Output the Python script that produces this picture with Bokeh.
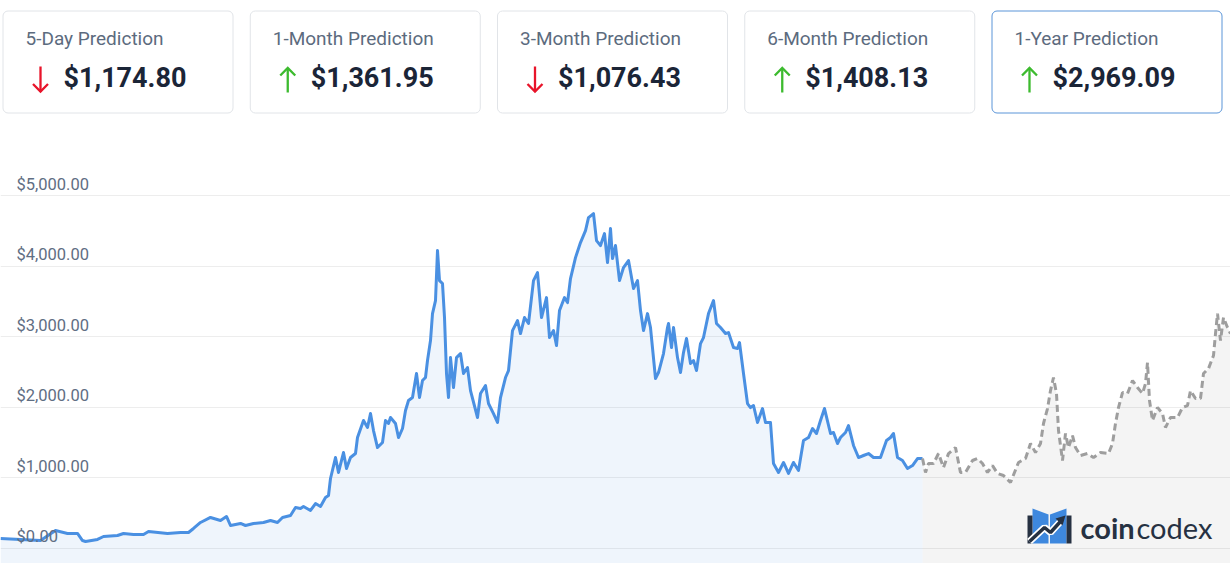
from bokeh.plotting import figure
from bokeh.models import Range1d, FixedTicker, Grid
from bokeh.layouts import column
from bokeh.embed import file_html
from bokeh.resources import INLINE
from bokeh.core.properties import value

# ---------------- data ----------------
card_labels = ["5-Day Prediction", "1-Month Prediction", "3-Month Prediction",
               "6-Month Prediction", "1-Year Prediction"]
card_values = [1174.80, 1361.95, 1076.43, 1408.13, 2969.09]
card_up = [False, True, False, True, True]
card_selected = [False, False, False, False, True]

y_ticks = [0, 1000, 2000, 3000, 4000, 5000]
y_tick_labels = ["$0.00", "$1,000.00", "$2,000.00", "$3,000.00", "$4,000.00", "$5,000.00"]

hist_t = [0, 20, 40, 55, 67, 77, 82, 85, 97, 103, 117, 123, 133, 143, 148, 167, 180, 188, 193, 200,
          210, 220, 226, 230, 240, 245, 253, 263, 270, 277, 282, 290, 295, 300, 303, 310, 315, 320, 325, 328,
          330, 335, 338, 343, 346, 350, 355, 357, 363, 367, 370, 373, 377, 382, 385, 388, 390, 395, 398, 402,
          405, 408, 412, 416, 419, 422, 425, 427, 430, 432, 435, 437, 439, 442, 444, 446, 448, 450, 453, 456,
          460, 463, 467, 470, 477, 480, 485, 488, 493, 497, 500, 505, 508, 512, 517, 520, 524, 528, 533, 537,
          541, 546, 549, 553, 556, 559, 564, 567, 570, 575, 580, 585, 588, 593, 596, 600, 604, 607, 610, 612,
          615, 619, 623, 628, 633, 637, 640, 643, 647, 650, 655, 658, 663, 667, 668, 671, 673, 677, 680, 683,
          686, 690, 693, 696, 700, 703, 708, 713, 716, 720, 725, 728, 733, 737, 739, 743, 747, 750, 753, 757,
          762, 765, 770, 773, 778, 783, 788, 793, 798, 803, 808, 812, 816, 820, 824, 830, 833, 837, 840, 845,
          848, 853, 858, 863, 868, 873, 880, 886, 890, 893, 897, 902, 907, 912, 917, 922]
hist_price = [142, 128, 113, 255, 213, 213, 113, 99, 128, 170, 184, 213, 199, 199, 241, 213, 227, 227, 284, 369,
              440, 397, 454, 326, 355, 326, 355, 369, 397, 369, 440, 468, 581, 567, 596, 539, 638, 596, 723, 752,
              993, 1290, 1078, 1361, 1134, 1290, 1347, 1574, 1815, 1716, 1914, 1673, 1432, 1503, 1815, 1773, 1858, 1773, 1574, 1702,
              1957, 2099, 2141, 2482, 2141, 2382, 2425, 2666, 2949, 3332, 3517, 4226, 3800, 3758, 3276, 2482, 2141, 2708, 2283, 2708,
              2765, 2482, 2567, 2240, 1858, 2198, 2311, 2056, 1914, 1787, 2141, 2425, 2524, 3091, 3233, 3049, 3276, 3191, 3800, 3914,
              3276, 3559, 2992, 3091, 2879, 3375, 3559, 3488, 3829, 4126, 4339, 4509, 4694, 4750, 4367, 4297, 4467, 4055, 4538, 4112,
              4297, 3800, 3985, 4084, 3687, 3800, 3375, 3091, 3332, 3134, 2411, 2496, 2765, 3134, 3191, 2850, 3134, 2708, 2496, 2779,
              2978, 2623, 2666, 2524, 2907, 2992, 3332, 3517, 3191, 3134, 3049, 3063, 2850, 2836, 2921, 2482, 2056, 1999, 2028, 1787,
              1985, 1787, 1787, 1205, 1078, 1220, 1064, 1220, 1106, 1532, 1574, 1702, 1631, 1815, 1985, 1631, 1645, 1489, 1574, 1645,
              1744, 1461, 1290, 1319, 1347, 1290, 1290, 1532, 1574, 1631, 1290, 1248, 1134, 1177, 1276, 1276]

pred_t = [922, 925, 928, 933, 938, 943, 948, 955, 960, 965, 972, 977, 982, 987, 992, 997, 1003, 1010, 1018, 1025,
          1030, 1035, 1040, 1043, 1047, 1050, 1053, 1056, 1058, 1062, 1065, 1068, 1072, 1075, 1080, 1087, 1093, 1100, 1108, 1112,
          1115, 1118, 1122, 1127, 1132, 1137, 1142, 1145, 1147, 1149, 1152, 1157, 1162, 1165, 1170, 1177, 1182, 1187, 1190, 1195,
          1200, 1203, 1208, 1213, 1215, 1217, 1220, 1223, 1227, 1230]
pred_price = [1276, 1078, 1205, 1205, 1347, 1149, 1347, 1432, 1078, 1078, 1248, 1276, 1205, 1078, 1177, 1064, 1035, 936, 1220, 1276,
              1489, 1361, 1489, 1773, 1985, 2240, 2425, 2198, 1673, 1248, 1631, 1432, 1602, 1432, 1319, 1347, 1290, 1361, 1347, 1489,
              1773, 1999, 2212, 2198, 2382, 2283, 2198, 2340, 2637, 2099, 1815, 1999, 1914, 1716, 1858, 1858, 1999, 2028, 2240, 2127,
              2127, 2482, 2552, 2737, 3049, 3332, 2949, 3276, 3134, 3049]

# ---------------- style ----------------
FONT = "Roboto"
BLUE = "#4a90e2"
TITLE_C = "#5c6b7e"
VALUE_C = "#1b2537"
LABEL_C = "#5f6e83"
W = 1230

# ---------------- cards ----------------
cards = figure(width=W, height=125, x_range=Range1d(0, W), y_range=Range1d(125, 0),
               x_axis_location=None, y_axis_location=None, toolbar_location=None,
               output_backend="svg", min_border=0, outline_line_color=None)
cards.grid.visible = False

step = 247.25
lefts = [2 + i * step for i in range(len(card_labels))]
rights = [l + 230.5 for l in lefts]
border_cols = ["#5b95d8" if s else "#e1e4e8" for s in card_selected]
cards.quad(left=[l + 0.5 for l in lefts], right=rights, top=[10.5] * 5, bottom=[112.5] * 5,
           fill_color="white", line_color=border_cols, line_width=1, border_radius=5)

cards.text(x=[l + 23 for l in lefts], y=[38] * 5, text=card_labels,
           text_font=value(FONT), text_font_size="19px", text_color=TITLE_C,
           text_baseline="alphabetic", text_align="left")
cards.text(x=[l + 61 for l in lefts], y=[77] * 5, text=[f"${v:,.2f}" for v in card_values],
           text_font=value(FONT), text_font_size="27px", text_font_style="bold",
           text_color=VALUE_C, text_baseline="alphabetic", text_align="left")

for l, up in zip(lefts, card_up):
    cx = l + 38
    col = "#3dbb2f" if up else "#e8142a"
    if up:
        xs = [[cx, cx], [cx - 7.5, cx, cx + 7.5]]
        ys = [[67.5, 92], [75, 67.5, 75]]
    else:
        xs = [[cx, cx], [cx - 7.5, cx, cx + 7.5]]
        ys = [[66, 91], [83.5, 91, 83.5]]
    cards.multi_line(xs=xs, ys=ys, line_color=col, line_width=2.3, line_join="miter", line_cap="butt")

# ---------------- chart ----------------
p = figure(width=W, height=438, x_range=Range1d(0, W), y_range=Range1d(-213, 6000),
           x_axis_location=None, y_axis_location=None, toolbar_location=None,
           output_backend="svg", min_border=0, outline_line_color=None)
p.grid.visible = False
p.extra_y_ranges = {"px": Range1d(563, 125)}
p.add_layout(Grid(dimension=1, ticker=FixedTicker(ticks=y_ticks),
                  grid_line_color="#ededed", grid_line_width=1))

base = p.y_range.start
p.varea(x=hist_t, y1=[base] * len(hist_t), y2=hist_price, fill_color=BLUE, fill_alpha=0.09)
p.varea(x=pred_t, y1=[base] * len(pred_t), y2=pred_price, fill_color="#000000", fill_alpha=0.045)

p.line(hist_t, hist_price, line_color=BLUE, line_width=3, line_join="round")
p.line(pred_t, pred_price, line_color="#9e9e9e", line_width=3, line_dash="7 4")

p.text(x=[p.x_range.start] * len(y_ticks), y=y_ticks, text=y_tick_labels, x_offset=16, y_offset=-2,
       text_font=value(FONT), text_font_size="16.5px", text_color=LABEL_C,
       text_baseline="bottom", text_align="left")

# logo
DARK = "#263142"
LBLUE = "#3e88de"
p.patches(xs=[[1032, 1048, 1048, 1032], [1049.5, 1066, 1066, 1049.5]],
          ys=[[508, 514, 543, 543], [514, 508, 543, 543]],
          fill_color=LBLUE, line_color=None, y_range_name="px")
p.patches(xs=[[1027, 1032, 1032, 1027], [1066, 1071, 1071, 1066]],
          ys=[[515, 515, 543, 543], [515, 515, 543, 543]],
          fill_color=DARK, line_color=None, y_range_name="px")
p.line([1029, 1044, 1050, 1060], [541, 527, 532, 521], line_color="white", line_width=7,
       y_range_name="px")
p.line([1029, 1044, 1050, 1060], [541, 527, 532, 521], line_color=DARK, line_width=3.5,
       y_range_name="px")
p.patch([1055, 1065, 1062], [518, 515, 525], fill_color=DARK, line_color=None, y_range_name="px")
p.text(x=[1080], y=[527], text=["coin"], text_font=value("Lato"), text_font_size="29px",
       text_font_style="bold", text_color=DARK, text_baseline="alphabetic", y_range_name="px")
p.text(x=[1136], y=[527], text=["codex"], text_font=value("Lato"), text_font_size="29px",
       text_color=DARK, text_baseline="alphabetic", y_range_name="px")

layout = column(cards, p)
open("out.html", "w").write(file_html(layout, INLINE))
